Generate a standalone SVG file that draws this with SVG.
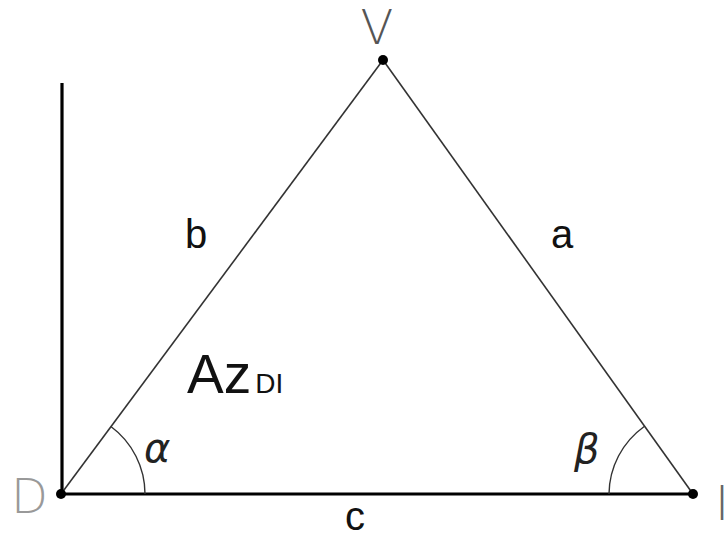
<svg xmlns="http://www.w3.org/2000/svg" width="728" height="537" viewBox="0 0 728 537">
<style>
.thin{stroke:#333;stroke-width:1.6;fill:none}
.thick{stroke:#000;stroke-width:3.2;fill:none}
.arc{stroke:#333;stroke-width:1.4;fill:none}
.lbl{font-family:"Liberation Sans",Arial,sans-serif;font-size:40px;fill:#111}
.pt{font-family:"DejaVu Sans",sans-serif;font-weight:200;font-size:48px}
.gr{font-family:"DejaVu Sans",sans-serif;font-style:italic;font-size:40px;fill:#222}
</style>
<rect width="728" height="537" fill="#fff"/>
<g id="connectors">
<line class="thick" x1="62" y1="83" x2="62" y2="494"/>
<line class="thin" x1="61" y1="494" x2="383" y2="60"/>
<line class="thin" x1="383" y1="60" x2="693" y2="494"/>
<line class="thick" x1="61" y1="494" x2="693" y2="494"/>
<path class="arc" d="M145,494 A84,84 0 0 0 110.9,426.5"/>
<path class="arc" d="M609,494 A84,84 0 0 1 644.2,426.5"/>
</g>
<g id="V"><circle cx="383" cy="60" r="5" fill="#000"/><text class="pt" x="377" y="44" text-anchor="middle" fill="#555">V</text></g>
<g id="D"><circle cx="61" cy="494" r="5" fill="#000"/><text class="pt" x="11" y="513" fill="#999">D</text></g>
<g id="I"><circle cx="693" cy="494" r="5" fill="#000"/><text class="pt" x="715" y="520" fill="#666">I</text></g>
<g id="labels">
<text class="lbl" x="196" y="248" text-anchor="middle">b</text>
<text class="lbl" x="562" y="248" text-anchor="middle">a</text>
<text class="lbl" x="355" y="530" text-anchor="middle" font-size="32">c</text>
<text x="187" y="393" font-family="Liberation Sans,Arial,sans-serif" fill="#111"><tspan font-size="55">Az</tspan><tspan font-size="28" dx="4">DI</tspan></text>
<text class="gr" x="144" y="462">α</text>
<text class="gr" x="574" y="463">β</text>
</g>
</svg>
